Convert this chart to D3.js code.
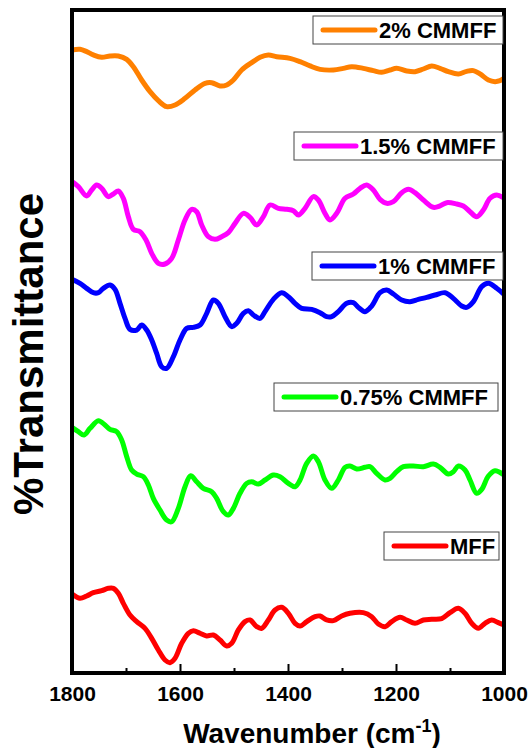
<!DOCTYPE html>
<html>
<head>
<meta charset="utf-8">
<script src="https://cdn.jsdelivr.net/npm/d3@7/dist/d3.min.js"></script>
<style>
  html, body { margin: 0; padding: 0; background: #fff; }
  svg { display: block; }
  text { font-family: "Liberation Sans", Arial, sans-serif; font-weight: bold; fill: #000; }
</style>
</head>
<body>
<div id="chart"></div>
<script>
// FTIR spectra, stacked with vertical offsets (%T, arbitrary offset units)
const wn2 = [1800,1785.2,1772.8,1760.5,1745,1729.6,1714.2,1698.7,1686.4,1671,1655.5,1640.1,1624.7,1609.2,1590.7,1572.2,1553.7,1541.3,1525.9,1513.5,1501.2,1485.8,1467.3,1451.8,1436.4,1420.9,1396.3,1377.7,1359.2,1340.7,1316,1297.5,1282.1,1260.5,1242,1226.5,1211.1,1198.8,1180.2,1164.8,1149.3,1133.9,1118.5,1103,1084.5,1069.1,1056.7,1044.4,1028.9,1016.6,1007.4,1000];
const t2 = [93.97,94.07,93.72,93.22,92.86,93.06,93.06,92.56,91.45,89.44,87.68,86.33,85.42,85.67,86.68,87.94,88.94,89.04,88.54,88.69,89.44,90.95,92.06,92.86,93.22,92.96,92.71,92.21,91.56,91.05,90.95,91.2,91.45,91.2,90.85,90.6,90.95,91.2,90.8,90.7,91.1,91.56,91.2,90.7,90.35,90.75,90.85,90.35,89.44,89.19,89.34,89.7];

const wn15 = [1800,1788.2,1772.8,1763.6,1754.3,1745,1732.7,1723.4,1714.2,1704.9,1695.7,1686.4,1674,1662.9,1652.4,1640.1,1627.8,1615.4,1603.1,1590.7,1578.4,1569.1,1559.8,1547.5,1535.2,1522.8,1510.5,1498.1,1482.7,1470.3,1458,1445.6,1433.3,1417.9,1402.4,1390.1,1380.8,1368.5,1353.1,1343.8,1331.5,1322.2,1309.8,1294.4,1279,1266.6,1254.3,1241.9,1229.6,1217.2,1204.9,1189.4,1177.1,1164.8,1149.3,1130.8,1118.5,1106.1,1087.6,1075.3,1062.9,1050.6,1038.2,1025.9,1013.5,1000];
const t15 = [74.11,73.36,71.95,72.85,73.61,73.1,71.85,72.25,72.7,71.59,68.83,66.92,66.57,65.31,63.3,61.79,61.69,62.54,65.31,68.33,69.94,69.58,67.57,65.81,65.41,65.81,66.42,67.82,69.33,68.73,67.57,68.83,70.59,70.09,69.94,69.73,69.08,70.09,71.85,71.34,69.33,68.33,69.33,71.6,72.25,73.1,73.61,72.85,71.44,70.84,71.09,72.45,72.95,72.45,71.34,70.24,70.44,70.94,70.74,70.44,69.58,68.83,69.84,71.6,72.1,71.6];

const wn1 = [1800,1785.2,1772.8,1760.5,1751.2,1742,1729.6,1720.3,1711.1,1701.8,1692.6,1680.2,1671,1661.7,1652.4,1643.2,1633.9,1624.7,1612.3,1600,1587.6,1575.3,1562.9,1550.6,1538.2,1529,1516.6,1504.3,1495,1482.7,1473.4,1464.2,1451.8,1442.6,1427.1,1411.7,1399.3,1387,1374.7,1356.1,1340.7,1328.4,1319.1,1306.8,1291.3,1279,1269.7,1257.4,1245,1229.6,1217.2,1204.9,1189.4,1174,1158.6,1143.2,1127.7,1109.2,1093.8,1078.3,1069.1,1056.7,1041.3,1028.9,1013.5,1000];
const t1 = [59.38,58.77,58.02,57.36,57.36,58.02,58.52,57.87,55.76,53.49,51.83,51.73,52.49,51.73,50.23,48.21,46.2,45.95,47.71,50.23,51.98,52.14,52.49,54.25,56.26,55.76,53.74,52.24,52.74,54.25,54.65,54,53.49,54.5,56.36,57.36,56.76,55.76,55,54.85,54.35,53.74,53.74,54.5,55.76,55.86,55.15,54.5,55.35,57.36,57.77,57.16,56.26,56.01,56.36,56.66,57.01,57.36,56.51,55.35,55.15,56.01,58.27,58.77,58.02,57.11];

const wn075 = [1800,1788.2,1777.8,1766.6,1751.2,1738.9,1729.6,1717.3,1708,1698.7,1689.5,1680.2,1667.9,1658.6,1649.4,1637,1624.7,1615.4,1603.1,1590.7,1580.2,1569.1,1556.8,1541.3,1532.1,1519.7,1510.5,1501.2,1488.9,1476.5,1467.3,1454.9,1442.6,1427.1,1414.8,1399.3,1387,1377.7,1365.4,1353.1,1343.8,1331.5,1319.1,1306.8,1294.4,1285.2,1272.8,1257.4,1248.1,1235.8,1220.3,1211.1,1198.8,1186.4,1167.9,1149.3,1130.8,1118.5,1103,1093.8,1084.5,1072.2,1062.9,1050.6,1041.3,1028.9,1016.6,1000];
const t075 = [37.05,36.4,35.89,36.9,38.06,37.4,36.75,36.4,35.14,32.63,30.62,30.01,29.61,28.35,26.34,24.58,23.07,22.82,24.83,28.1,29.76,28.85,27.85,27.35,26.34,24.33,23.83,24.83,27.1,28.6,28.86,28.5,29.11,29.86,29.61,28.6,28.1,29.11,31.62,32.73,31.87,29.11,27.85,29.11,31.02,31.22,30.77,31.02,31.12,30.11,29.11,29.36,30.36,31.12,31.22,31.12,31.52,31.02,30.01,30.36,31.22,30.62,29.11,27.1,27.7,29.71,30.51,29.86];

const wnMFF = [1800,1785.2,1772.8,1760.5,1745,1732.7,1723.4,1714.2,1704.9,1692.6,1680.2,1664.8,1652.4,1640.1,1627.8,1618.5,1609.2,1596.9,1584.6,1575.3,1562.9,1550.6,1538.2,1525.9,1513.5,1504.3,1491.9,1479.6,1470.3,1458,1448.7,1436.4,1424,1411.7,1399.3,1387,1377.7,1365.4,1349.9,1340.7,1328.4,1316,1300.6,1285.2,1260.5,1245,1232.7,1220.3,1208,1192.5,1180.2,1164.8,1149.3,1133.9,1115.4,1100,1084.5,1072.2,1059.8,1047.5,1035.2,1022.8,1010.5,1000];
const tMFF = [11.92,11.27,11.62,12.12,12.42,12.77,12.77,12.02,10.51,8.75,7.75,6.74,5.23,3.47,1.96,1.56,2.21,4.48,5.99,6.39,5.99,5.58,5.73,4.98,4.08,4.48,6.49,7.75,8,6.99,6.74,8,9.51,9.91,9,7.49,7.09,7.75,8.5,8.6,8,7.9,8.6,9,9.1,8.5,7.39,6.99,7.75,8.4,8,7.49,8,8.1,8.2,9.1,9.76,9,7.49,6.74,7.49,8,7.59,7.24];

const seriesNames = ["2% CMMFF", "1.5% CMMFF", "1% CMMFF", "0.75% CMMFF", "MFF"];
const seriesColors = ["#FF8000", "#FF00FF", "#0000FF", "#00FF00", "#FF0000"];
const seriesWn = [wn2, wn15, wn1, wn075, wnMFF];
const seriesT = [t2, t15, t1, t075, tMFF];

const xTicks = [1800, 1600, 1400, 1200, 1000];
const xMinorTicks = [1700, 1500, 1300, 1100];

// legend box placement (box left, box top, box right) per series
const legendBoxes = [
  {x0: 313, y0: 16, x1: 503},
  {x0: 294, y0: 132, x1: 503},
  {x0: 312, y0: 252, x1: 503},
  {x0: 274, y0: 383, x1: 498},
  {x0: 384, y0: 532, x1: 499}
];

const W = 529, H = 748;
const plot = {left: 72, right: 504, top: 10, bottom: 673};

const svg = d3.select("#chart").append("svg").attr("width", W).attr("height", H);

const x = d3.scaleLinear().domain([1800, 1000]).range([plot.left, plot.right]);
const y = d3.scaleLinear().domain([0, 100]).range([plot.bottom, plot.top]);

const line = d3.line()
  .x(d => x(d[0]))
  .y(d => y(d[1]))
  .curve(d3.curveCatmullRom.alpha(0.5));

svg.append("clipPath").attr("id", "plotClip")
  .append("rect").attr("x", plot.left).attr("y", plot.top)
  .attr("width", plot.right - plot.left).attr("height", plot.bottom - plot.top);

const gLines = svg.append("g").attr("clip-path", "url(#plotClip)");
seriesNames.forEach((name, i) => {
  const pts = seriesWn[i].map((w, j) => [w, seriesT[i][j]]);
  gLines.append("path")
    .datum(pts)
    .attr("d", line)
    .attr("fill", "none")
    .attr("stroke", seriesColors[i])
    .attr("stroke-width", 5)
    .attr("stroke-linejoin", "round")
    .attr("stroke-linecap", "round");
});

// frame
svg.append("rect")
  .attr("x", plot.left).attr("y", plot.top)
  .attr("width", plot.right - plot.left).attr("height", plot.bottom - plot.top)
  .attr("fill", "none").attr("stroke", "#000").attr("stroke-width", 4);

// bottom axis: inward ticks
const xAxis = d3.axisBottom(x).tickValues(xTicks).tickFormat(d3.format("d"))
  .tickSizeInner(-9).tickSizeOuter(0).tickPadding(13);
const gx = svg.append("g").attr("transform", `translate(0,${plot.bottom})`).call(xAxis);
gx.select(".domain").remove();
gx.selectAll(".tick line").attr("stroke", "#000").attr("stroke-width", 2);
gx.selectAll(".tick text")
  .style("font-size", "21px")
  .style("font-family", "'Liberation Sans', Arial, sans-serif")
  .style("font-weight", "bold")
  .attr("fill", "#000");

const xMinor = d3.axisBottom(x).tickValues(xMinorTicks).tickSizeInner(-5).tickSizeOuter(0).tickFormat("");
const gxm = svg.append("g").attr("transform", `translate(0,${plot.bottom})`).call(xMinor);
gxm.select(".domain").remove();
gxm.selectAll(".tick line").attr("stroke", "#000").attr("stroke-width", 2);

// axis titles
const xt = svg.append("text")
  .attr("x", 312).attr("y", 743)
  .attr("text-anchor", "middle")
  .style("font-size", "28px");
xt.append("tspan").text("Wavenumber (cm");
xt.append("tspan").attr("dy", -11).style("font-size", "18px").text("-1");
xt.append("tspan").attr("dy", 11).text(")");

svg.append("text")
  .attr("transform", "translate(43,354) rotate(-90)")
  .attr("text-anchor", "middle")
  .style("font-size", "42px")
  .text("%Transmittance");

// legends
seriesNames.forEach((name, i) => {
  const b = legendBoxes[i];
  const g = svg.append("g");
  g.append("rect")
    .attr("x", b.x0).attr("y", b.y0)
    .attr("width", b.x1 - b.x0).attr("height", 28)
    .attr("fill", "#fff").attr("stroke", "#444").attr("stroke-width", 1);
  g.append("line")
    .attr("x1", b.x0 + 10).attr("x2", b.x0 + 62)
    .attr("y1", b.y0 + 14).attr("y2", b.y0 + 14)
    .attr("stroke", seriesColors[i]).attr("stroke-width", 5)
    .attr("stroke-linecap", "round");
  g.append("text")
    .attr("x", b.x0 + 66).attr("y", b.y0 + 22)
    .style("font-size", "22px")
    .text(name);
});
</script>
</body>
</html>
